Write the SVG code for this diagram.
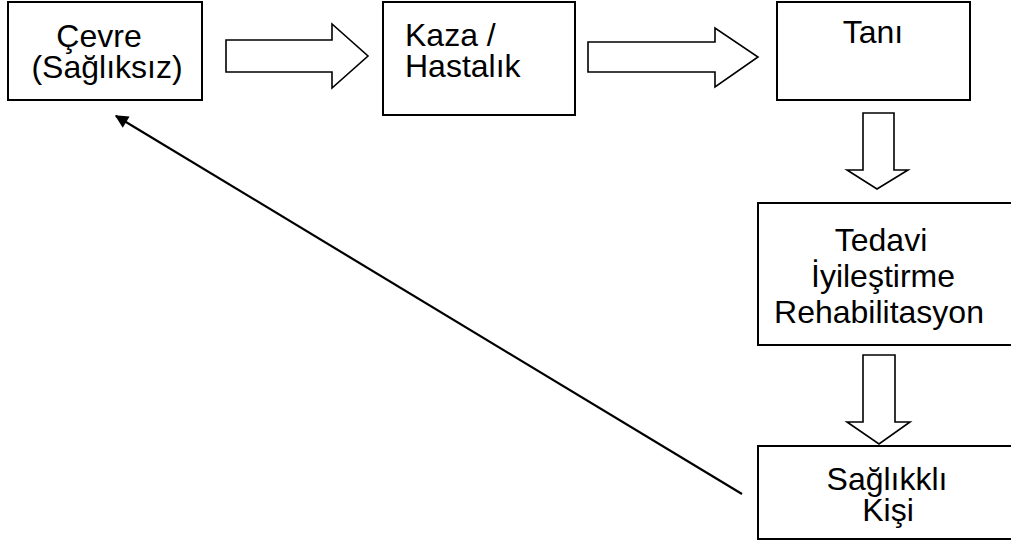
<svg xmlns="http://www.w3.org/2000/svg" width="1011" height="544" viewBox="0 0 1011 544">
<defs>
<style>
.box{fill:#fff;stroke:#000;stroke-width:2}
.blk{fill:#fff;stroke:#000;stroke-width:1.6;stroke-linejoin:miter}
.t{font-family:"Liberation Sans",Arial,sans-serif;font-size:32px;fill:#000}
.c{text-anchor:middle}
</style>
<marker id="ah" viewBox="0 0 10 10" refX="9" refY="5" markerWidth="7" markerHeight="6" orient="auto" markerUnits="strokeWidth">
<path d="M0,0 L10,5 L0,10 z" fill="#000"/>
</marker>
</defs>
<rect width="1011" height="544" fill="#fff"/>
<g id="connectors">
<polygon class="blk" points="226,40 332,40 332,24 368,56 332,88 332,72 226,72"/>
<polygon class="blk" points="588,42 715,42 715,28 758,57 715,87 715,72 588,72"/>
<polygon class="blk" points="863,113 894,113 894,170 908,170 877,189 847,170 863,170"/>
<polygon class="blk" points="863,355 895,355 895,422 910,422 879,444 847,422 863,422"/>
<line x1="742" y1="494" x2="116" y2="116" stroke="#000" stroke-width="2.2" marker-end="url(#ah)"/>
</g>
<g id="n1">
<rect class="box" x="8" y="2" width="194" height="98"/>
<text class="t c" x="99" y="47">Çevre</text>
<text class="t c" x="107" y="78">(Sağlıksız)</text>
</g>
<g id="n2">
<rect class="box" x="383" y="2" width="192" height="113"/>
<text class="t" x="405" y="46">Kaza /</text>
<text class="t" x="405" y="77">Hastalık</text>
</g>
<g id="n3">
<rect class="box" x="777" y="2" width="193" height="98"/>
<text class="t c" x="873" y="43">Tanı</text>
</g>
<g id="n4">
<rect class="box" x="758" y="203" width="260" height="142"/>
<text class="t c" x="881" y="251">Tedavi</text>
<text class="t c" x="883" y="287">İyileştirme</text>
<text class="t c" x="879" y="323">Rehabilitasyon</text>
</g>
<g id="n5">
<rect class="box" x="758" y="446" width="260" height="93"/>
<text class="t c" x="887" y="490">Sağlıkklı</text>
<text class="t c" x="888" y="521">Kişi</text>
</g>
</svg>
